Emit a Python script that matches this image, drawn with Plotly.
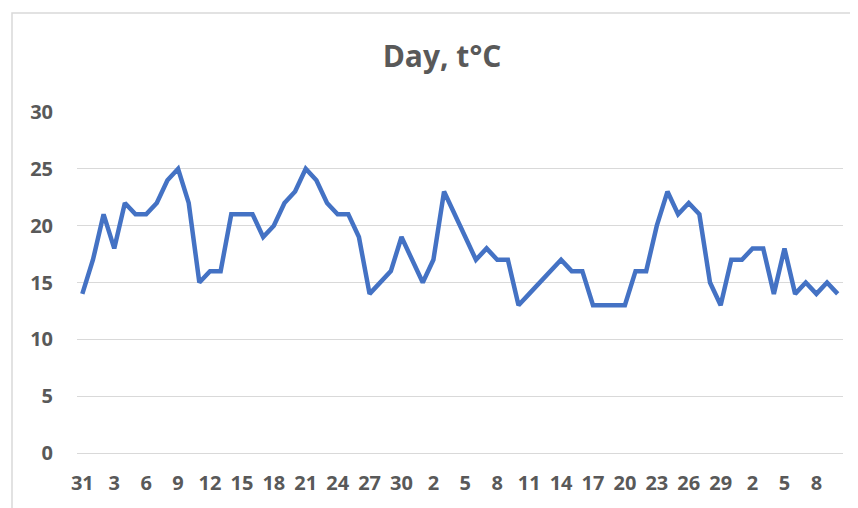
import plotly.graph_objects as go

# Day labels (31, then 1..31, 1..30, 1..10)
day_labels = [31] + list(range(1, 32)) + list(range(1, 31)) + list(range(1, 11))
temps = [14, 17, 21, 18, 22, 21, 21, 22, 24, 25,
         22, 15, 16, 16, 21, 21, 21, 19, 20, 22,
         23, 25, 24, 22, 21, 21, 19, 14, 15, 16,
         19, 17, 15, 17, 23, 21, 19, 17, 18, 17,
         17, 13, 14, 15, 16, 17, 16, 16, 13, 13,
         13, 13, 16, 16, 20, 23, 21, 22, 21, 15,
         13, 17, 17, 18, 18, 14, 18, 14, 15, 14,
         15, 14]
y_ticks = [0, 5, 10, 15, 20, 25, 30]

x_idx = list(range(len(temps)))
tick_idx = x_idx[::3]
tick_text = [str(day_labels[i]) for i in tick_idx]

FONT = "Open Sans"
GREY = "#595959"

fig = go.Figure()
fig.add_trace(go.Scatter(
    x=x_idx, y=temps, mode="lines",
    line=dict(color="#4472C4", width=4.5),
    hoverinfo="y",
))

# page body has an 8px margin: figure drawn at (8, 8)
OFF = 8
W, H = 850, 500
L, R, T, B = 77 - OFF, 15, 112 - OFF, 55
pw = W - L - R
ph = H - T - B

def px_x(p):  # page pixel -> paper x
    return (p - OFF - L) / pw

def px_y(p):  # page pixel -> paper y
    return (H - B - (p - OFF)) / ph

fig.update_layout(
    width=W, height=H,
    margin=dict(l=L, r=R, t=T, b=B),
    paper_bgcolor="white", plot_bgcolor="white",
    showlegend=False,
    title=dict(text="<b>Day, t°C</b>", font=dict(family=FONT, size=30, color=GREY),
               x=(442 - OFF) / W, xref="container", xanchor="center",
               y=1 - (56 - OFF) / H, yref="container", yanchor="middle"),
    xaxis=dict(range=[-0.5, len(temps) - 0.5], tickmode="array",
               tickvals=tick_idx, ticktext=tick_text, showgrid=False,
               showline=True, linecolor="#d9d9d9", linewidth=1,
               zeroline=False, ticks="", ticklabelstandoff=12,
               tickfont=dict(family=FONT, size=20, color=GREY, weight="bold")),
    yaxis=dict(range=[0, 30], tickmode="array", tickvals=y_ticks,
               showgrid=True, gridcolor="#d9d9d9", gridwidth=1,
               zeroline=False, showline=False, ticks="",
               ticklabelstandoff=23,
               tickfont=dict(family=FONT, size=20, color=GREY, weight="bold")),
    shapes=[dict(type="rect", xref="paper", yref="paper",
                 x0=px_x(12), x1=px_x(870), y0=px_y(520), y1=px_y(13),
                 line=dict(color="#d9d9d9", width=1.5), fillcolor="rgba(0,0,0,0)",
                 layer="below")],
)

fig.write_html("out.html")
